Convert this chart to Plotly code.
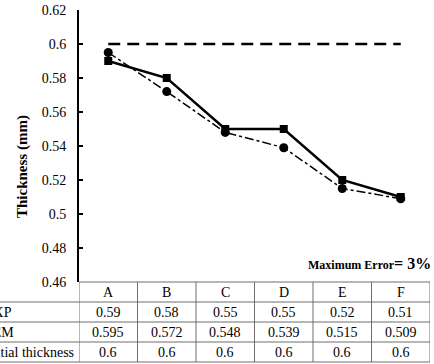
import plotly.graph_objects as go

categories = ["A", "B", "C", "D", "E", "F"]
exp_vals = [0.59, 0.58, 0.55, 0.55, 0.52, 0.51]
fem_vals = [0.595, 0.572, 0.548, 0.539, 0.515, 0.509]
initial_vals = [0.6, 0.6, 0.6, 0.6, 0.6, 0.6]
row_names = ["EXP", "FEM", "Initial thickness"]
y_ticks = [0.46, 0.48, 0.5, 0.52, 0.54, 0.56, 0.58, 0.6, 0.62]

W, H = 434, 364
L, R, T, B = 79, 4, 10, 82
PW, PH = W - L - R, H - T - B
FONT = "Liberation Serif, Times New Roman, serif"


def px_x(p):
    return (p - L) / PW


def px_y(p):
    return (H - B - p) / PH


fig = go.Figure()
fig.add_trace(go.Scatter(x=categories, y=initial_vals, mode="lines",
                         line=dict(color="black", width=2.5, dash="12px,7px"),
                         name=row_names[2]))
fig.add_trace(go.Scatter(x=categories, y=exp_vals, mode="lines+markers",
                         line=dict(color="black", width=2.5),
                         marker=dict(symbol="square", size=8, color="black"),
                         name=row_names[0]))
fig.add_trace(go.Scatter(x=categories, y=fem_vals, mode="lines+markers",
                         line=dict(color="black", width=1.5, dash="dashdot"),
                         marker=dict(symbol="circle", size=9, color="black"),
                         name=row_names[1]))

shapes = []
grid = dict(color="#6f6f6f", width=1)
table_top = H - B
row_h = 20
# horizontal rules of the data table
shapes.append(dict(type="line", xref="paper", yref="paper",
                   x0=0, x1=1, y0=px_y(table_top), y1=px_y(table_top), line=grid))
for i in range(1, 5):
    yy = px_y(table_top + i * row_h)
    shapes.append(dict(type="line", xref="paper", yref="paper",
                       x0=px_x(-5), x1=1, y0=yy, y1=yy, line=grid))
# vertical rules between category columns
for i in range(len(categories) + 1):
    shapes.append(dict(type="line", xref="x", yref="paper",
                       x0=i - 0.5, x1=i - 0.5,
                       y0=px_y(table_top), y1=px_y(table_top + 4 * row_h), line=grid))

cell_font = dict(family=FONT, size=14, color="black")
annotations = []
table_rows = [exp_vals, fem_vals, initial_vals]
for j, c in enumerate(categories):
    annotations.append(dict(x=j, y=px_y(table_top + row_h / 2), xref="x", yref="paper",
                            xanchor="center", yanchor="middle",
                            text=c, showarrow=False, font=cell_font))
    for r, vals in enumerate(table_rows):
        annotations.append(dict(x=j, y=px_y(table_top + (r + 1.5) * row_h), xref="x", yref="paper",
                                xanchor="center", yanchor="middle",
                                text=f"{vals[j]:g}", showarrow=False, font=cell_font))
for r, name in enumerate(row_names):
    annotations.append(dict(x=px_x(-17), y=px_y(table_top + (r + 1.5) * row_h), xref="paper", yref="paper",
                            text=name, showarrow=False, xanchor="left", yanchor="middle",
                            font=cell_font))
annotations.append(dict(x=px_x(433), y=px_y(263), xref="paper", yref="paper",
                        xanchor="right", yanchor="middle",
                        text="<b><span style='font-size:12px'>Maximum Error</span>= 3%</b>",
                        showarrow=False, font=dict(family=FONT, size=16, color="black")))
# y-axis title
annotations.append(dict(x=px_x(22), y=px_y(167), xref="paper", yref="paper",
                        xanchor="center", yanchor="middle", textangle=-90,
                        text="<b>Thickness (mm)</b>", showarrow=False,
                        font=dict(family=FONT, size=15, color="black")))

fig.update_layout(
    width=W, height=H, margin=dict(l=L, r=R, t=T, b=B),
    paper_bgcolor="white", plot_bgcolor="white", showlegend=False,
    font=dict(family=FONT, color="black"),
    xaxis=dict(type="category", range=[-0.5, 5.5], showticklabels=False, showgrid=False,
               zeroline=False, showline=False, ticks=""),
    yaxis=dict(range=[0.46, 0.62], tickvals=y_ticks, ticktext=[f"{v:g}" for v in y_ticks],
               showgrid=False, zeroline=False, showline=True, linecolor="black", linewidth=2,
               ticks="inside", ticklen=4, tickwidth=2, tickcolor="black",
               ticklabelstandoff=8, tickfont=dict(family=FONT, size=14, color="black")),
    shapes=shapes, annotations=annotations,
)

fig.write_html("out.html")
